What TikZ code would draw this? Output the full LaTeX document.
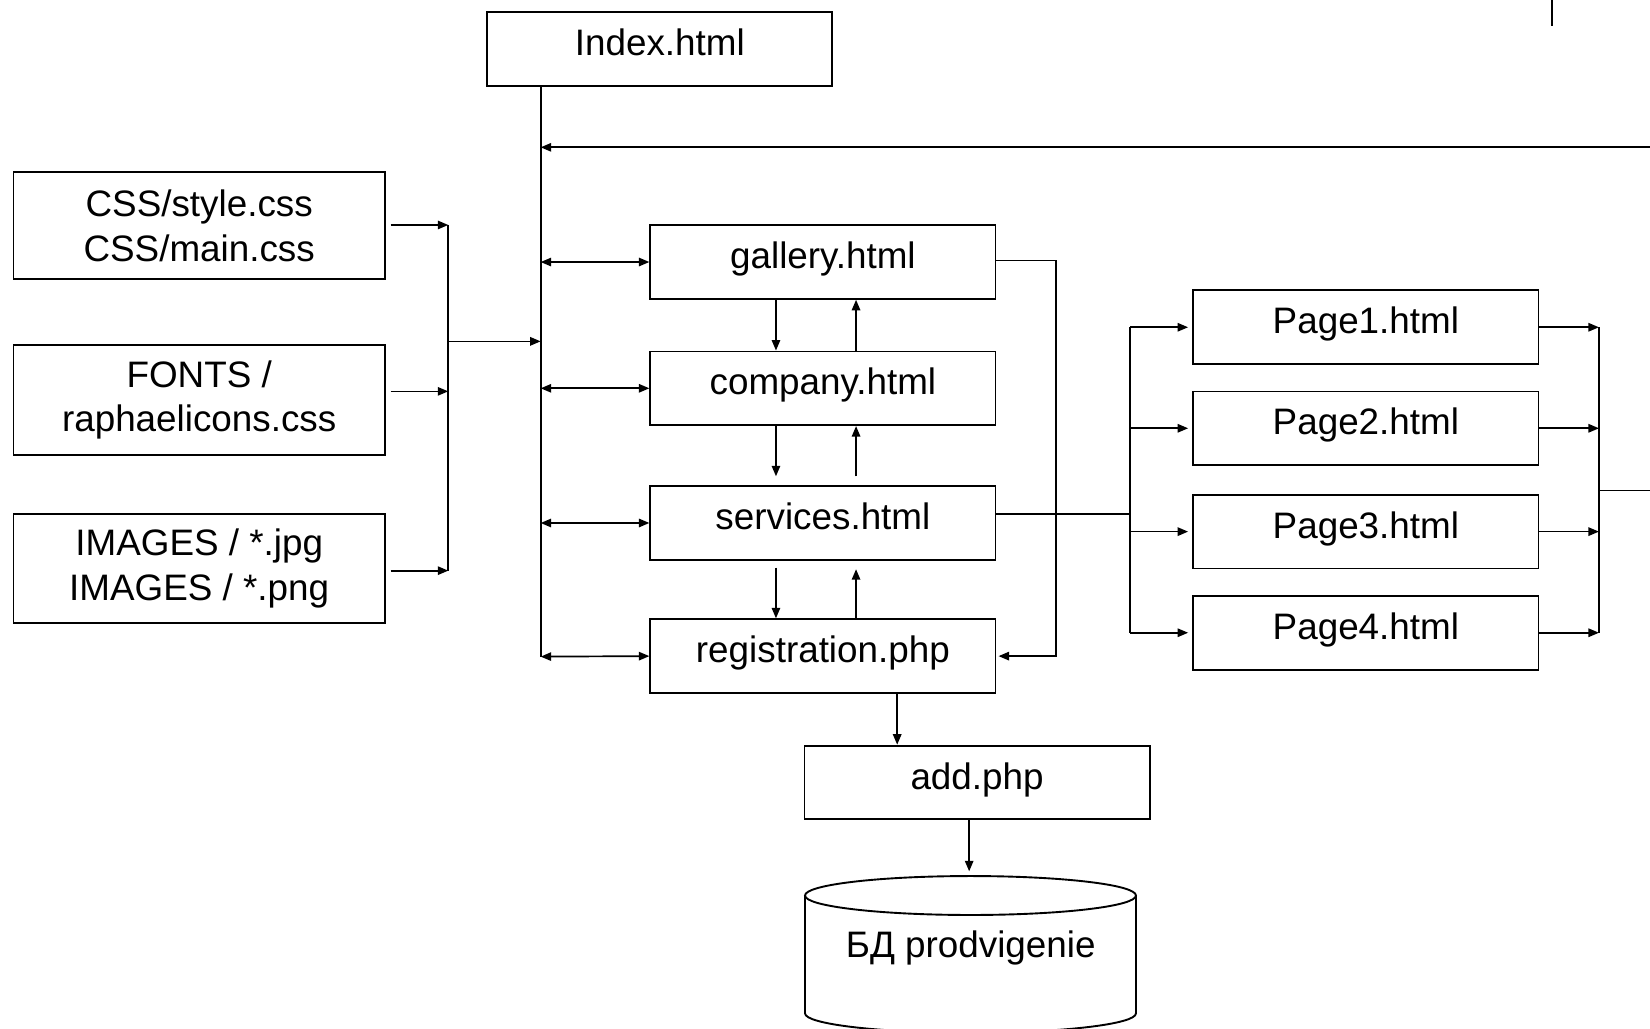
\documentclass[tikz,border=0pt]{standalone}
\usepackage{fontspec}
\setmainfont{Liberation Sans}
\usetikzlibrary{arrows.meta,calc}
\newcommand{\bigfont}{\fontsize{35pt}{42.5pt}\selectfont}
\tikzset{
  box/.style={draw, line width=1.8pt, inner sep=0pt, font=\bigfont,
    text height=25pt, text depth=12.5pt, minimum width=328pt, minimum height=70pt},
  mbox/.style={draw, line width=1.8pt, inner sep=0pt, font=\bigfont, align=center,
    minimum width=353pt},
  conn/.style={line width=1.6pt},
  arr/.style={conn, -{Triangle[length=10pt,width=8pt]}},
  darr/.style={conn, {Triangle[length=10pt,width=8pt]}-{Triangle[length=10pt,width=8pt]}},
  dbtext/.style={inner sep=0pt, font=\bigfont, text height=25pt, text depth=12.5pt}
}
\begin{document}
\begin{tikzpicture}[x=1pt,y=-1pt]
\useasboundingbox (0,0) rectangle (1568,977);
\clip (0,0) rectangle (1568,977);
\fill[white] (0,0) rectangle (1568,977);

% nodes
\node[box, minimum height=69.7pt] (index) at (627,46.6) {Index.html};
\node[box] (gallery) at (782,249) {gallery.html};
\node[box] (company) at (782,369) {company.html};
\node[box] (services) at (782,497) {services.html};
\node[box] (registration) at (782,623.5) {registration.php};
\node[box] (add) at (928.5,743.6) {add.php};
\node[box] (page1) at (1298,311) {Page1.html};
\node[box] (page2) at (1298,407) {Page2.html};
\node[box] (page3) at (1298,505.2) {Page3.html};
\node[box] (page4) at (1298,601.3) {Page4.html};
\node[mbox, minimum height=101.6pt] (css) at (189.3,214.6) {CSS/style.css\\CSS/main.css};
\node[mbox, minimum height=104.5pt] (fonts) at (189.3,380.2) {FONTS /\\raphaelicons.css};
\node[mbox, minimum height=103.8pt] (images) at (189.3,540.4) {IMAGES / *.jpg\\IMAGES / *.png};

% database cylinder
\draw[line width=1.8pt, fill=white] (765,851) -- (765,963)
  arc[start angle=180, end angle=0, x radius=157.25, y radius=18.5] -- (1079.5,851);
\draw[line width=1.8pt] (922.25,851) ellipse[x radius=157.25, y radius=18.5];
\node[dbtext] (db) at (922.5,903.5) {БД prodvigenie};

% helper coordinates
\coordinate (busB) at (513.8,624);
\coordinate (brk) at (426,324.4);
\coordinate (gr) at (1003.5,400);
\coordinate (pb) at (1074,450);
\coordinate (rb) at (1519.5,466);
\coordinate (eR1) at (1568,140);
\coordinate (eR2) at (1568,466);
\coordinate (tickA) at (1475.2,0);
\coordinate (tickB) at (1475.2,24.4);
\coordinate (dbin) at (921,828);

% main bus
\draw[conn] (index.south west -| busB) -- (busB);
\draw[arr] (eR1) -- (eR1 -| busB);
\draw[darr] (busB |- gallery.west) -- (gallery.west);
\draw[darr] (busB |- company.west) -- (company.west);
\draw[darr] (busB |- services.west) -- (services.west);
\draw[darr] (busB) -- (registration.west);

% left bracket
\draw[arr] ($(css.east)+(4.5,-0.8)$) -- ($(css.east -| brk)+(0,-0.8)$);
\draw[arr] ($(fonts.east)+(4.5,-8.3)$) -- ($(fonts.east -| brk)+(0,-8.3)$);
\draw[arr] ($(images.east)+(4.5,1.9)$) -- ($(images.east -| brk)+(0,1.9)$);
\draw[conn] ($(css.east -| brk)+(0,-0.8)$) -- ($(images.east -| brk)+(0,1.9)$);
\draw[arr] (brk) -- (brk -| busB);

% vertical stack arrows
\draw[arr] ($(gallery.south)+(-44.6,0)$) -- ($(company.north)+(-44.6,0)$);
\draw[arr] ($(company.north)+(31.5,0)$) -- ($(gallery.south)+(31.5,0)$);
\draw[arr] ($(company.south)+(-44.6,0)$) -- ($(services.north)+(-44.6,-8.5)$);
\draw[arr] ($(services.north)+(31.5,-8.5)$) -- ($(company.south)+(31.5,0)$);
\draw[arr] ($(services.south)+(-44.6,6.5)$) -- ($(registration.north)+(-44.6,0)$);
\draw[arr] ($(registration.north)+(31.5,0)$) -- ($(services.south)+(31.5,8)$);

% gallery -> registration loop
\draw[arr] ($(gallery.east)+(0,-1.3)$) -- ($(gallery.east -| gr)+(0,-1.3)$)
  -- (registration.east -| gr) -- ($(registration.east)+(2,0)$);

% registration -> add -> db
\draw[arr] ($(registration.south)+(70.6,0)$) -- ($(add.north)+(-75.9,0)$);
\draw[arr] (add.south -| dbin) -- (dbin);

% services -> pages
\draw[conn] ($(services.east)+(0,-8.5)$) -- ($(services.east -| pb)+(0,-8.5)$);
\draw[conn] (page1.west -| pb) -- (page4.west -| pb);
\draw[arr] (page1.west -| pb) -- ($(page1.west)+(-4,0)$);
\draw[arr] (page2.west -| pb) -- ($(page2.west)+(-4,0)$);
\draw[arr] (page3.west -| pb) -- ($(page3.west)+(-4,0)$);
\draw[arr] (page4.west -| pb) -- ($(page4.west)+(-4,0)$);

% pages -> right bracket
\draw[arr] (page1.east) -- (page1.east -| rb);
\draw[arr] (page2.east) -- (page2.east -| rb);
\draw[arr] (page3.east) -- (page3.east -| rb);
\draw[arr] (page4.east) -- (page4.east -| rb);
\draw[conn] (page1.east -| rb) -- (page4.east -| rb);
\draw[conn] (rb) -- (eR2);

% tick at top right
\draw[line width=2pt] (tickA) -- (tickB);
\end{tikzpicture}
\end{document}
